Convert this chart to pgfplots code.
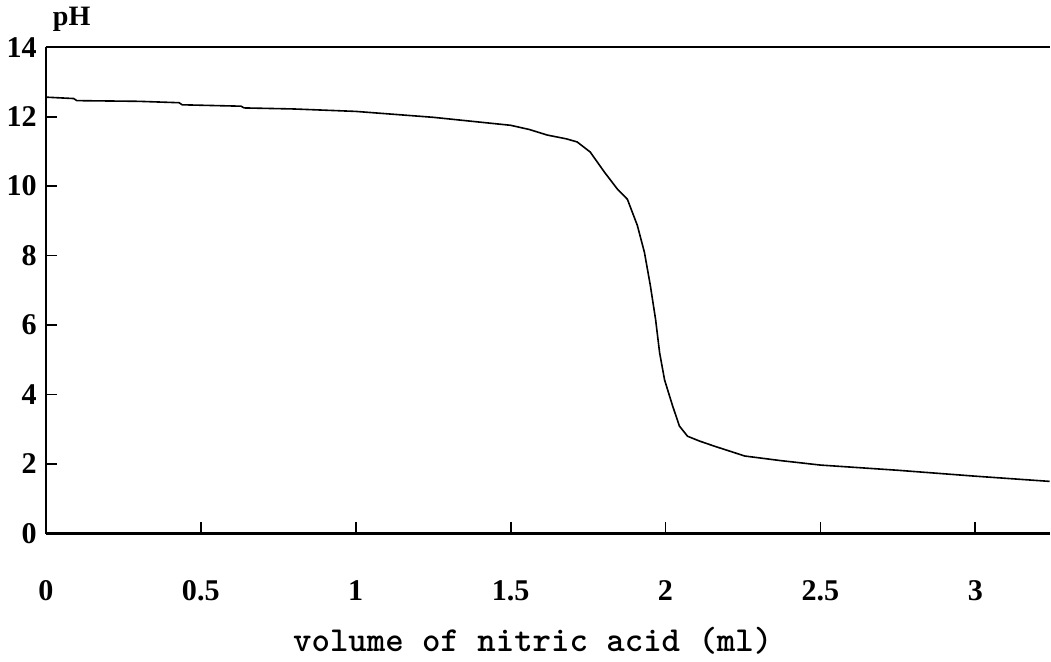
\documentclass[border=0pt]{standalone}
\usepackage{pgfplots}
\pgfplotsset{compat=1.18}
\usepackage{fontspec}
\setmainfont{Liberation Serif}
\begin{document}
\begin{tikzpicture}
\begin{axis}[
  scale only axis, width=500.5pt, height=242.5pt,
  xmin=0, xmax=3.24, ymin=0, ymax=14,
  axis x line*=bottom, axis y line*=left,
  axis line style={line width=1.3pt, -},
  tick align=inside, major tick length=5.5pt,
  tick style={line width=0.9pt, black},
  xtick={0,0.5,1,1.5,2,2.5,3},
  xticklabels={0,0.5,1,1.5,2,2.5,3},
  ytick={0,2,4,6,8,10,12,14},
  /pgf/number format/assume math mode=true,
  ticklabel style={font=\fontsize{15}{15}\selectfont\bfseries},
  xticklabel style={yshift=-20pt},
  yticklabel style={xshift=-1pt},
  xlabel={volume of nitric acid (ml)},
  ylabel={pH},
  every axis x label/.style={at={(axis description cs:0.485,0)}, anchor=base, yshift=-59pt, font=\ttfamily\bfseries\fontsize{17.5}{20}\selectfont},
  every axis y label/.style={at={(axis description cs:0,1)}, anchor=base west, yshift=11pt, font=\bfseries\fontsize{14}{14}\selectfont},
  clip=false,
]
\addplot[black, line width=0.8pt] coordinates {
 (0,12.56) (0.09,12.52) (0.10,12.46) (0.30,12.44) (0.43,12.40) (0.44,12.34)
 (0.63,12.30) (0.64,12.25) (0.80,12.22) (1.00,12.15) (1.25,11.98)
 (1.50,11.75) (1.56,11.63) (1.618,11.47) (1.68,11.36) (1.715,11.27)
 (1.757,10.98) (1.803,10.40)
 (1.845,9.91) (1.877,9.62) (1.909,8.87) (1.932,8.09) (1.951,7.14)
 (1.968,6.16) (1.981,5.20) (1.997,4.42) (2.023,3.67) (2.045,3.09)
 (2.071,2.80) (2.11,2.66) (2.159,2.51) (2.256,2.23) (2.37,2.10)
 (2.50,1.97) (2.75,1.82) (3.00,1.65) (3.24,1.50)
};
\draw[line width=1.3pt] (rel axis cs:0,1) -- (rel axis cs:1,1);
\end{axis}
\end{tikzpicture}
\end{document}
